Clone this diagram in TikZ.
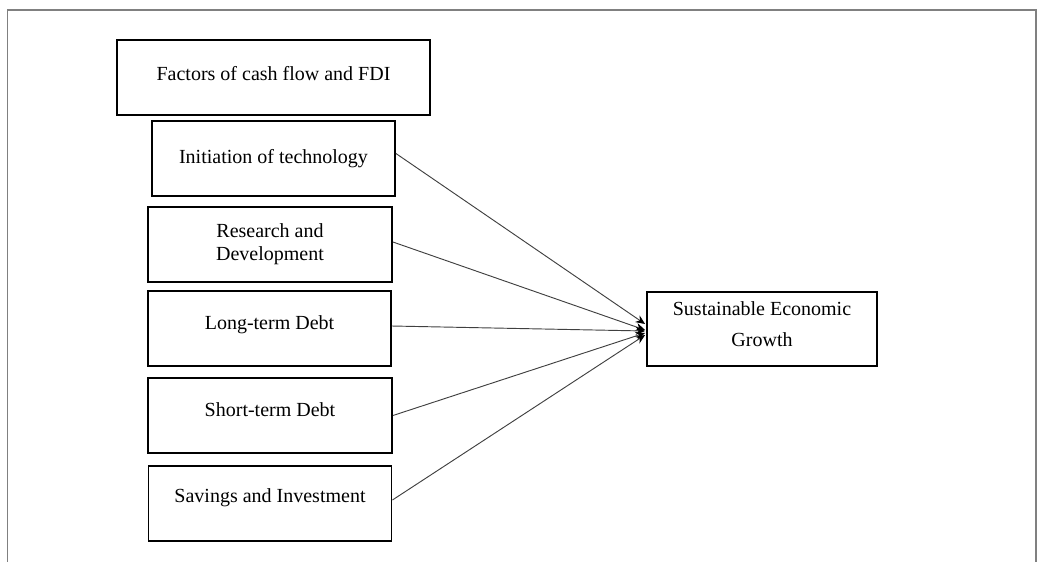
\documentclass[tikz,border=0pt]{standalone}
\usepackage{fontspec}
\setmainfont{Liberation Serif}
\usetikzlibrary{calc,arrows.meta}
\tikzset{
  box/.style={draw=black, line width=1.4pt, rectangle, inner sep=0pt, align=center,
    font=\fontsize{15pt}{17.25pt}\selectfont},
  oneline/.style={text height=10.5pt, text depth=3pt},
  link/.style={draw=black!75, line width=0.7pt, -{Stealth[length=7pt,width=6pt,fill=black,color=black]}},
  frame/.style={draw=black!50, line width=1.4pt}
}
\begin{document}
\begin{tikzpicture}[x=0.75pt, y=-0.75pt]
\useasboundingbox (0,0) rectangle (1037,561);
\clip (0,0) rectangle (1037,561);
\draw[frame] (7.5,580) -- (7.5,10) -- (1036,10) -- (1036,580);

\node[box, oneline, minimum width=313*0.75pt, minimum height=75*0.75pt] (fac) at (273.5,77.5) {\raisebox{1.5pt}[\height][\depth]{Factors of cash flow and FDI}};
\node[box, oneline, minimum width=243*0.75pt, minimum height=75*0.75pt] (ini) at (273.5,158.5) {Initiation of technology};
\node[box, minimum width=244*0.75pt, minimum height=75*0.75pt] (res) at (270,244.5) {Research and\\Development};
\node[box, oneline, minimum width=243*0.75pt, minimum height=75*0.75pt] (lon) at (269.5,328.5) {\raisebox{3pt}[\height][\depth]{Long-term Debt}};
\node[box, oneline, minimum width=244*0.75pt, minimum height=75*0.75pt] (sho) at (270,415.5) {\raisebox{3pt}[\height][\depth]{Short-term Debt}};
\node[box, oneline, minimum width=243*0.75pt, minimum height=75*0.75pt] (sav) at (270,503.5) {\raisebox{4.5pt}[\height][\depth]{Savings and Investment}};
\node[box, minimum width=230*0.75pt, minimum height=74*0.75pt, text depth=7.5pt, font=\fontsize{15pt}{22pt}\selectfont] (sus) at (762,329) {Sustainable Economic\\[1pt]Growth};

\draw[link] ($(ini.east)+(0,-5)$) -- ($(sus.west)+(-1,-5)$);
\draw[link] ($(res.east)+(0,-2.5)$) -- ($(sus.west)+(-1,1)$);
\draw[link] ($(lon.east)+(0,-2.5)$) -- ($(sus.west)+(-1,2)$);
\draw[link] ($(sho.east)+(0,0)$) -- ($(sus.west)+(-1,4)$);
\draw[link] ($(sav.east)+(0,-3.5)$) -- ($(sus.west)+(-1,6)$);
\end{tikzpicture}
\end{document}
